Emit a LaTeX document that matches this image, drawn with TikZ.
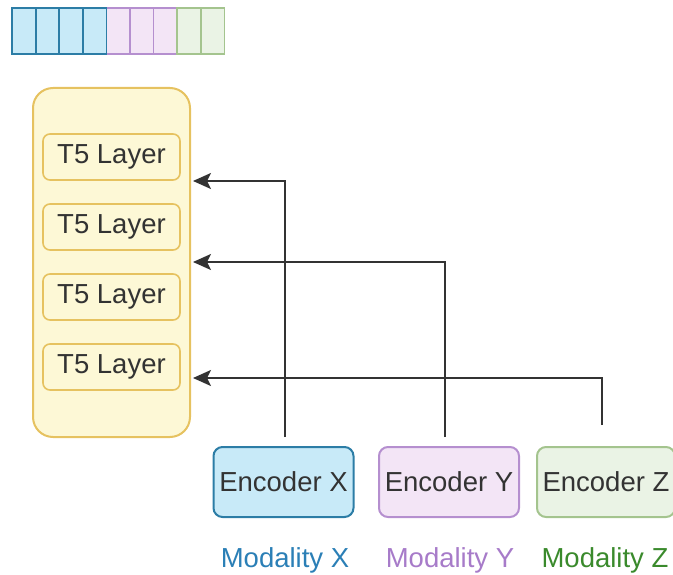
\documentclass[tikz,border=0pt]{standalone}
\usepackage{fontspec}
\setmainfont{Liberation Sans}
\usetikzlibrary{arrows.meta}
\definecolor{bluefill}{HTML}{C8EAF8}
\definecolor{blueline}{HTML}{2C7DA6}
\definecolor{purplefill}{HTML}{F3E5F6}
\definecolor{purpleline}{HTML}{B58FCF}
\definecolor{greenfill}{HTML}{EAF3E5}
\definecolor{greenline}{HTML}{A4C48E}
\definecolor{yellowfill}{HTML}{FDF8D6}
\definecolor{yellowline}{HTML}{E6C260}
\definecolor{inktext}{HTML}{333333}
\definecolor{modx}{HTML}{2B7FB6}
\definecolor{mody}{HTML}{A77BC9}
\definecolor{modz}{HTML}{3A8A2C}
\tikzset{
  labelfont/.style={font=\fontsize{27.5}{31}\selectfont},
  layerbox/.style={draw=yellowline, fill=yellowfill, line width=1.6pt, rounded corners=7pt,
    minimum width=137pt, minimum height=46pt, inner sep=0pt, text=inktext, labelfont},
  encbox/.style={line width=2pt, rounded corners=9pt, minimum width=140pt, minimum height=70pt,
    inner sep=0pt, text=inktext, labelfont},
  modlabel/.style={labelfont, inner sep=0pt},
  feed/.style={draw=inktext, line width=2pt, -{Stealth[length=18pt,width=16pt,inset=4pt]}},
}
\begin{document}
\begin{tikzpicture}[x=1pt,y=-1pt]
\useasboundingbox (0,0) rectangle (673,575);
\clip (0,0) rectangle (673,575);

% token strip: four blue, three purple, two green cells
\foreach \i in {0,...,3}
  \draw[fill=bluefill, draw=blueline, line width=1.8pt] ({12+23.6*\i},8) rectangle ++(23.6,46);
\foreach \i in {4,...,6}
  \draw[fill=purplefill, draw=purpleline, line width=1.6pt] ({12+23.6*\i},8) rectangle ++(23.6,46);
\foreach \i in {7,8}
  \draw[fill=greenfill, draw=greenline, line width=1.6pt] ({12+23.6*\i},8) rectangle ++(23.6,46);
\draw[draw=blueline, line width=1.8pt] (12,8) rectangle (106.4,54);

% T5 stack
\node[draw=yellowline, fill=yellowfill, line width=2pt, rounded corners=20pt,
  minimum width=157pt, minimum height=349pt, inner sep=0pt] (stack) at (111.5,262.5) {};
\node[layerbox] (l1) at (111.5,157) {T5 Layer};
\node[layerbox] (l2) at (111.5,227) {T5 Layer};
\node[layerbox] (l3) at (111.5,297) {T5 Layer};
\node[layerbox] (l4) at (111.5,367) {T5 Layer};

% encoders
\node[encbox, draw=blueline, fill=bluefill] (ex) at (283.5,482) {Encoder X};
\node[encbox, draw=purpleline, fill=purplefill] (ey) at (449,482) {Encoder Y};
\node[encbox, draw=greenline, fill=greenfill, minimum width=138pt] (ez) at (606,482) {Encoder Z};

% modality labels
\node[modlabel, text=modx] (mx) at (285,560) {Modality X};
\node[modlabel, text=mody] (my) at (450,560) {Modality Y};
\node[modlabel, text=modz] (mz) at (605,560) {Modality Z};

% connectors from encoders into the stack
\coordinate (sx) at (285,437);
\coordinate (sy) at (445,437);
\coordinate (sz) at (602,425);
\coordinate (tx) at (193,181);
\coordinate (ty) at (193,262);
\coordinate (tz) at (193,378);
\draw[feed] (sx) |- (tx);
\draw[feed] (sy) |- (ty);
\draw[feed] (sz) |- (tz);
\end{tikzpicture}
\end{document}
